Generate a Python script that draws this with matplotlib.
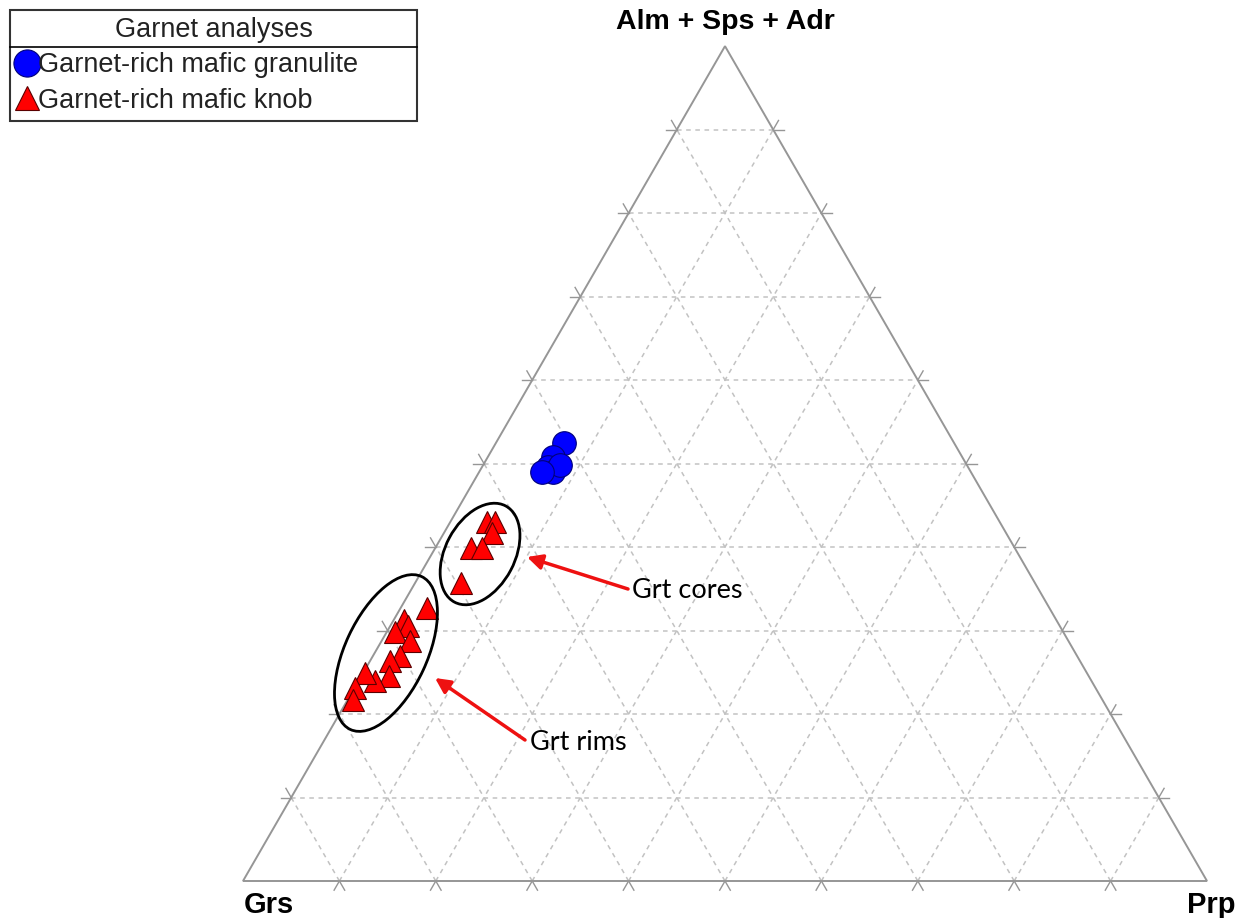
import numpy as np
import matplotlib
matplotlib.use("Agg")
import matplotlib.pyplot as plt
from matplotlib.patches import Ellipse, Polygon
from matplotlib.lines import Line2D

# ---- data (percent): Alm+Sps+Adr (apex), Grs (left), Prp (right) ----
granulite_top = [52.5, 50.8, 49.6, 49.0, 49.8, 49.0]
granulite_prp = [7.0, 6.8, 6.8, 7.7, 8.0, 6.5]
granulite_grs = [40.5, 42.4, 43.6, 43.3, 42.2, 44.5]

knob_top = [43.0, 43.0, 41.7, 39.9, 39.9, 35.7,
            32.7, 31.3, 30.5, 29.8, 28.7, 27.0, 26.4, 24.6, 24.0, 24.9, 23.1, 21.7]
knob_prp = [3.8, 4.6, 5.0, 3.7, 4.8, 4.8,
            2.7, 1.0, 1.9, 0.9, 3.0, 2.8, 2.1, 2.8, 1.7, 0.2, 0.1, 0.6]
knob_grs = [53.2, 52.4, 53.3, 56.4, 55.3, 59.5,
            64.6, 67.7, 67.6, 69.3, 68.3, 70.2, 71.5, 72.6, 74.3, 74.9, 76.8, 77.7]

vertex_labels = ["Alm + Sps + Adr", "Grs", "Prp"]
legend_title = "Garnet analyses"
series_labels = ["Garnet-rich mafic granulite", "Garnet-rich mafic knob"]
grid_values = [10, 20, 30, 40, 50, 60, 70, 80, 90]

H = np.sqrt(3) / 2


def tern(top, prp, grs):
    top = np.asarray(top, float); prp = np.asarray(prp, float); grs = np.asarray(grs, float)
    s = top + prp + grs
    t = top / s; p = prp / s
    return p + t / 2, t * H


W, Hpx = 1238, 918
fig = plt.figure(figsize=(W / 100, Hpx / 100), dpi=100)
ax = fig.add_axes([0, 0, 1, 1])
L, B, S = 243.0, 881.0, 964.0
ax.set_xlim(-L / S, (W - L) / S)
ax.set_ylim((B - Hpx) / S, B / S)
ax.set_aspect("auto")
ax.axis("off")

font = ["Liberation Sans", "DejaVu Sans"]
gridc = "#c2c2c2"
edgec = "#969696"

# grid lines
for v in grid_values:
    x, y = tern([v, v], [0, 100 - v], [100 - v, 0])
    ax.plot(x, y, ls=(0, (3, 3)), color=gridc, lw=1.1, zorder=1)
    x, y = tern([0, 100 - v], [v, v], [100 - v, 0])
    ax.plot(x, y, ls=(0, (3, 3)), color=gridc, lw=1.1, zorder=1)
    x, y = tern([0, 100 - v], [100 - v, 0], [v, v])
    ax.plot(x, y, ls=(0, (3, 3)), color=gridc, lw=1.1, zorder=1)

# tick stubs (grid lines continued outside)
e = 0.011
for v in grid_values:
    f = v / 100
    bx, by = f, 0.0
    ax.plot([bx, bx - e * 0.5], [by, by - e * H], color=edgec, lw=1.0, zorder=2)
    ax.plot([bx, bx + e * 0.5], [by, by - e * H], color=edgec, lw=1.0, zorder=2)
    lx, ly = f / 2, f * H
    ax.plot([lx, lx - e], [ly, ly], color=edgec, lw=1.0, zorder=2)
    ax.plot([lx, lx - e * 0.5], [ly, ly + e * H], color=edgec, lw=1.0, zorder=2)
    rx, ry = 1 - f / 2, f * H
    ax.plot([rx, rx + e], [ry, ry], color=edgec, lw=1.0, zorder=2)
    ax.plot([rx, rx + e * 0.5], [ry, ry + e * H], color=edgec, lw=1.0, zorder=2)

# triangle frame
tri = Polygon([[0, 0], [1, 0], [0.5, H]], closed=True, fill=False,
              edgecolor=edgec, lw=1.4, zorder=2)
ax.add_patch(tri)

# data
gx, gy = tern(granulite_top, granulite_prp, granulite_grs)
kx, ky = tern(knob_top, knob_prp, knob_grs)
ax.plot(gx, gy, ls="none", marker="o", ms=17, mfc="#0000ff", mec="#00007a",
        mew=0.8, zorder=5, label=series_labels[0])
ax.plot(kx, ky, ls="none", marker="^", ms=15.5, mfc="#ff0000", mec="#5a0000",
        mew=0.8, zorder=5, label=series_labels[1])

# ellipses (annotation)
ax.add_patch(Ellipse((0.2459, 0.3392), 0.113, 0.072, angle=62, fill=False,
                     edgecolor="black", lw=2.0, zorder=6))
ax.add_patch(Ellipse((0.1483, 0.2365), 0.175, 0.085, angle=65, fill=False,
                     edgecolor="black", lw=2.0, zorder=6))


def px(xp, yp):
    return (xp - L) / S, (B - yp) / S


ax.annotate("", xy=px(527, 557), xytext=px(628, 589),
            arrowprops=dict(arrowstyle="-|>,head_length=0.9,head_width=0.45",
                            color="#ee1111", lw=2.5, shrinkA=0, shrinkB=0), zorder=7)
ax.annotate("", xy=px(435, 678), xytext=px(525, 740),
            arrowprops=dict(arrowstyle="-|>,head_length=0.9,head_width=0.45",
                            color="#ee1111", lw=2.5, shrinkA=0, shrinkB=0), zorder=7)
ax.text(*px(632, 590), "Grt cores", family=["Lato", "DejaVu Sans"], fontsize=19.5,
        ha="left", va="center")
ax.text(*px(530, 742), "Grt rims", family=["Lato", "DejaVu Sans"], fontsize=19.5,
        ha="left", va="center")

# vertex labels
ax.text(*px(725, 22), vertex_labels[0], family=font, fontsize=20.5,
        fontweight="bold", ha="center", va="center")
ax.text(*px(244, 905), vertex_labels[1], family=font, fontsize=21,
        fontweight="bold", ha="left", va="center")
ax.text(*px(1236, 905), vertex_labels[2], family=font, fontsize=21,
        fontweight="bold", ha="right", va="center")

# legend
leg = ax.legend(loc="upper left", bbox_to_anchor=(10 / W, 1 - 10 / Hpx, 407 / W, 0),
                bbox_transform=fig.transFigure, mode="expand",
                title=legend_title, prop={"family": font, "size": 19.5},
                title_fontproperties={"family": font, "size": 19.5},
                frameon=True, fancybox=False, edgecolor="black", borderpad=0.25,
                handlelength=0.75, handletextpad=0.05, borderaxespad=0,
                labelspacing=0.35, markerscale=1.15)
leg.get_frame().set_linewidth(1.5)
for t in leg.get_texts():
    t.set_color("#222222")
leg.get_title().set_color("#222222")
fig.canvas.draw()
tb = leg.get_title().get_window_extent()
fb = leg.get_frame().get_window_extent()
ysep = tb.y0 - 4
fig.add_artist(Line2D([fb.x0 / W, fb.x1 / W], [ysep / Hpx, ysep / Hpx],
                      color="black", lw=1.2, transform=fig.transFigure))

fig.savefig("out.png", dpi=100)
